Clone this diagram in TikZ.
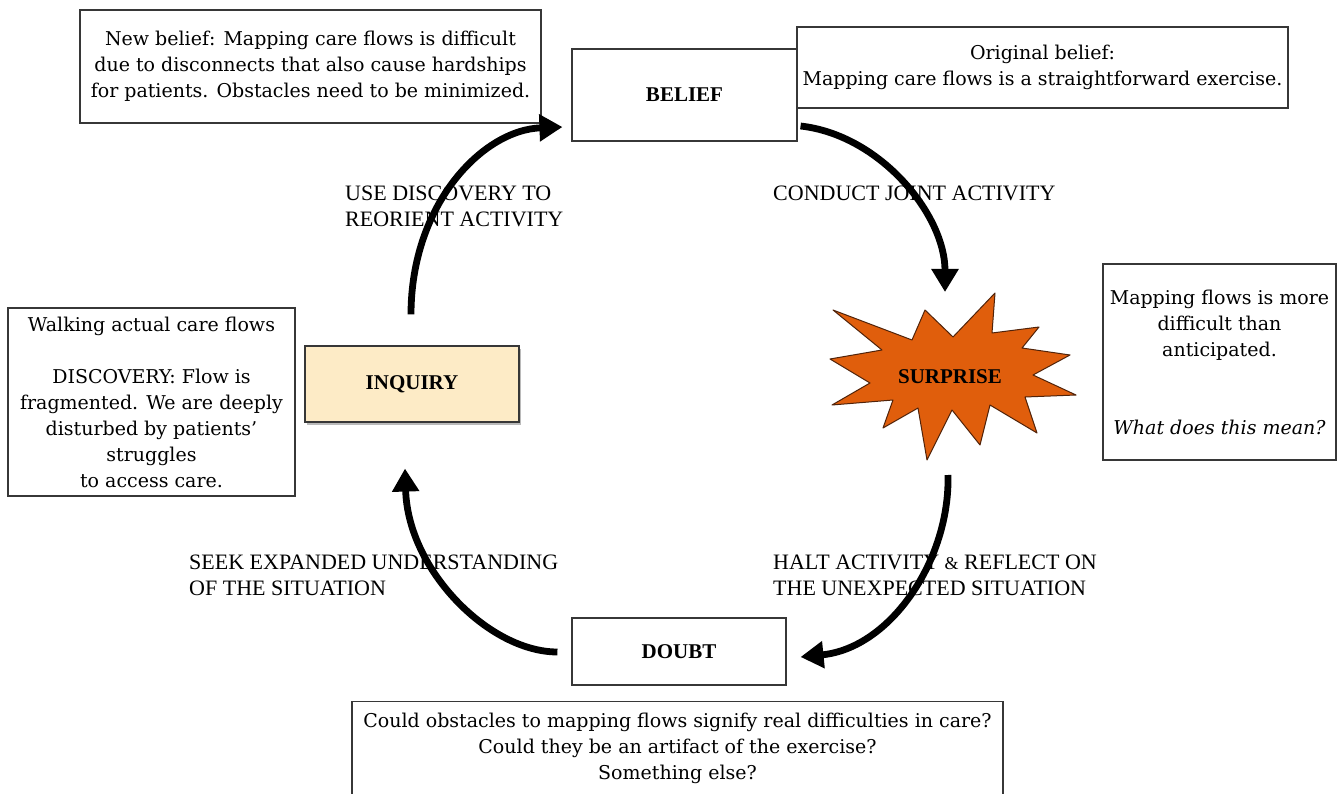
\documentclass[tikz,border=0pt]{standalone}
\usepackage{fontspec}
\setmainfont{DejaVu Serif}
\newfontfamily\capsfont{Liberation Serif}
\usetikzlibrary{arrows.meta,shadows}

\definecolor{boxline}{RGB}{55,55,55}
\definecolor{inqfill}{RGB}{253,235,198}
\definecolor{burst}{RGB}{224,94,12}
\definecolor{burstline}{RGB}{80,35,10}

\tikzset{
  note/.style={draw=boxline, line width=1.1pt, fill=white, align=center,
    inner sep=0pt, font=\fontsize{19}{26}\selectfont},
  stage/.style={draw=boxline, line width=1.1pt, fill=white, inner sep=0pt,
    font=\capsfont\bfseries\fontsize{21}{25}\selectfont},
  lbl/.style={font=\capsfont\fontsize{22}{26}\selectfont, align=left,
    inner sep=0pt, anchor=north west},
  flow/.style={line width=6.8pt, -{Triangle[length=23pt,width=26pt]}}
}

\begin{document}
\begin{tikzpicture}[x=1pt,y=-1pt]
\useasboundingbox (0,0) rectangle (1341,794);
\fill[white] (0,0) rectangle (1341,794);

% stages of the cycle
\node[stage, minimum width=225pt, minimum height=92pt] (belief) at (684.5,95) {BELIEF};
\node[stage, minimum width=214pt, minimum height=67pt] (doubt) at (679,651.5) {DOUBT};
\node[stage, fill=inqfill, minimum width=214pt, minimum height=76pt,
  drop shadow={shadow xshift=2pt, shadow yshift=-2.5pt, opacity=0.45, fill=black!60}]
  (inquiry) at (412,384) {INQUIRY};

% surprise burst
\filldraw[fill=burst, draw=burstline, line width=1pt, line join=round]
  (833,310) -- (912,340) -- (925,310) -- (953,337) -- (995,293) -- (992,333)
  -- (1039,327) -- (1022,348) -- (1070,355) -- (1033,375) -- (1076,395)
  -- (1025,397) -- (1037,433) -- (990,405) -- (980,445) -- (952,410)
  -- (927,460) -- (918,408) -- (883,428) -- (893,400) -- (832,405)
  -- (870,383) -- (830,359) -- (882,350) -- cycle;
\node[inner sep=0pt, font=\capsfont\bfseries\fontsize{21}{25}\selectfont]
  (surprise) at (950,377) {SURPRISE};

% notes around the cycle
\node[note, minimum width=461pt, minimum height=113pt] (newbelief) at (310.5,66.5)
  {New belief: Mapping care flows is difficult\\
   due to disconnects that also cause hardships\\
   for patients. Obstacles need to be minimized.};
\node[note, minimum width=491pt, minimum height=81pt] (original) at (1042.5,67.5)
  {Original belief:\\ Mapping care flows is a straightforward exercise.};
\node[note, minimum width=233pt, minimum height=196pt] (meaning) at (1219.5,362)
  {Mapping flows is more\\ difficult than\\ anticipated.\\[52pt]
   \itshape What does this mean?};
\node[note, minimum width=287pt, minimum height=188pt] (walking) at (151.5,402)
  {Walking actual care flows\\[26pt]
   DISCOVERY: Flow is\\ fragmented. We are deeply\\ disturbed by patients’\\
   struggles\\ to access care.};
\node[note, minimum width=651pt, anchor=north, inner ysep=12pt, text depth=40pt]
  (questions) at (677.5,701)
  {Could obstacles to mapping flows signify real difficulties in care?\\
   Could they be an artifact of the exercise?\\ Something else?};

% transition labels
\node[lbl] (reorient) at (345,186) {USE DISCOVERY TO\\ REORIENT ACTIVITY};
\node[lbl] (conduct) at (773,186) {CONDUCT JOINT ACTIVITY};
\node[lbl] (halt) at (773,555) {HALT ACTIVITY {\fontsize{18}{26}\selectfont\&} REFLECT ON\\ THE UNEXPECTED SITUATION};
\node[lbl] (seek) at (189,555) {SEEK EXPANDED UNDERSTANDING\\ OF THE SITUATION};

% cycle arrows
\draw[flow] ([xshift=-1pt,yshift=31pt]inquiry.north)
  .. controls +(0,-110) and +(-80,3) .. ([xshift=-9pt,yshift=-32pt]belief.west);
\draw[flow] ([xshift=3pt,yshift=-31pt]belief.east)
  .. controls +(80,9) and +(0,-77) .. ([xshift=-5pt,yshift=85pt]surprise.center);
\draw[flow] ([xshift=-2pt,yshift=-98pt]surprise.center)
  .. controls +(2,85) and +(90,-9) .. ([xshift=14pt,yshift=-5.5pt]doubt.east);
\draw[flow] ([xshift=-14pt,yshift=-0.5pt]doubt.west)
  .. controls +(-68,0) and +(3,102) .. ([xshift=-7pt,yshift=-46pt]inquiry.south);
\end{tikzpicture}
\end{document}
